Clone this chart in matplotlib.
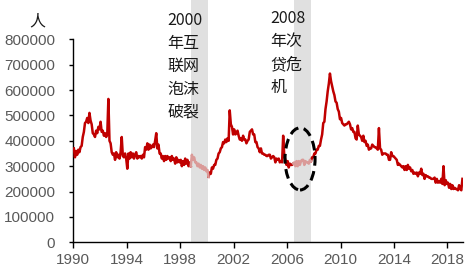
import numpy as np
import matplotlib
matplotlib.use("Agg")
import matplotlib.pyplot as plt
from matplotlib.patches import Ellipse

# Weekly initial jobless claims (thousands of persons)
c1990 = [370, 335, 360, 345, 365, 355, 375, 380, 415, 435, 470, 475]
c1991 = [490, 470, 510, 480, 465, 430, 425, 415, 440, 430, 455, 445]
c1992 = [475, 435, 440, 420, 430, 415, 425, 565, 400, 390, 355, 345]
c1993 = [350, 325, 355, 335, 345, 330, 355, 415, 340, 335, 350, 330]
c1994 = [290, 350, 330, 355, 335, 350, 330, 345, 355, 330, 340, 335]
c1995 = [340, 330, 345, 335, 375, 365, 390, 365, 385, 370, 375, 385]
c1996 = [375, 400, 430, 370, 385, 350, 350, 330, 340, 320, 340, 325]
c1997 = [340, 330, 335, 320, 340, 325, 330, 310, 335, 315, 325, 315]
c1998 = [325, 300, 320, 305, 330, 310, 325, 300, 315, 300, 345, 325]
c1999 = [335, 315, 315, 300, 310, 295, 305, 290, 300, 285, 295, 280]
c2000 = [285, 258, 275, 270, 295, 290, 305, 305, 325, 330, 350, 355]
c2001 = [370, 375, 395, 390, 405, 395, 410, 400, 520, 465, 455, 425]
c2002 = [445, 425, 430, 440, 420, 405, 410, 400, 420, 405, 405, 390]
c2003 = [400, 405, 435, 440, 445, 425, 425, 395, 395, 375, 370, 355]
c2004 = [370, 350, 350, 345, 345, 340, 340, 345, 345, 330, 335, 340]
c2005 = [335, 315, 330, 325, 330, 315, 320, 315, 420, 340, 325, 305]
c2006 = [320, 295, 310, 305, 305, 310, 315, 300, 320, 300, 320, 305]
c2007 = [320, 325, 325, 305, 320, 315, 315, 310, 325, 320, 335, 335]
c2008 = [350, 350, 365, 365, 380, 380, 405, 425, 470, 475, 525, 555]
c2009 = [595, 625, 665, 635, 615, 595, 580, 555, 550, 525, 515, 485]
c2010 = [490, 470, 465, 460, 465, 465, 470, 475, 465, 445, 450, 435]
c2011 = [435, 410, 405, 460, 425, 420, 415, 400, 420, 395, 400, 380]
c2012 = [385, 365, 370, 370, 385, 380, 375, 375, 370, 365, 450, 370]
c2013 = [365, 345, 350, 350, 350, 345, 345, 325, 325, 355, 340, 340]
c2014 = [335, 330, 325, 305, 310, 305, 300, 295, 300, 285, 300, 285]
c2015 = [305, 290, 295, 280, 285, 270, 275, 270, 275, 260, 275, 270]
c2016 = [290, 265, 270, 250, 265, 260, 260, 255, 255, 250, 250, 250]
c2017 = [255, 235, 250, 235, 240, 235, 250, 230, 300, 225, 245, 230]
c2018 = [235, 215, 230, 210, 225, 210, 215, 210, 210, 205, 225, 210]
c2019 = [205, 250]

crisis_periods = [(1998.8, 2000.06), (2006.52, 2007.78)]
crisis_labels = ["2000\n年互\n联网\n泡沫\n破裂", "2008\n年次\n贷危\n机"]
y_ticks = [0, 100000, 200000, 300000, 400000, 500000, 600000, 700000, 800000]
x_ticks = [1990, 1994, 1998, 2002, 2006, 2010, 2014, 2018]

series = (c1990 + c1991 + c1992 + c1993 + c1994 + c1995 + c1996 + c1997 + c1998 +
          c1999 + c2000 + c2001 + c2002 + c2003 + c2004 + c2005 + c2006 + c2007 +
          c2008 + c2009 + c2010 + c2011 + c2012 + c2013 + c2014 + c2015 + c2016 +
          c2017 + c2018 + c2019)
vals = np.array(series, dtype=float) * 1000
t = 1990 + (np.arange(len(vals)) + 0.5) / 12.0

in_crisis = np.zeros(len(vals), dtype=bool)
for a, b in crisis_periods:
    in_crisis |= (t >= a) & (t <= b)
pink_mask = in_crisis.copy()
pink_mask[:-1] |= in_crisis[1:]
pink_mask[1:] |= in_crisis[:-1]
red_vals = np.where(in_crisis, np.nan, vals)
pink_vals = np.where(pink_mask, vals, np.nan)

W, H = 465, 273
fig = plt.figure(figsize=(W / 100, H / 100), dpi=100)
ax = fig.add_axes([73.3 / W, 1 - 242.3 / H, (463.3 - 73.3) / W, (242.3 - 39.3) / H])

for a, b in crisis_periods:
    ax.axvspan(a, b, ymin=0, ymax=1 + 39.3 / 203, color="#E0E0E0", lw=0,
               clip_on=False, zorder=0)

ax.plot(t, red_vals, color="#C00000", lw=1.8, zorder=3)
ax.plot(t, pink_vals, color="#DA9A98", lw=1.8, zorder=3)

ax.add_patch(Ellipse((2006.97, 328700), width=2.25, height=245000, fill=False,
                     ec="black", lw=2.2, ls=(0, (3.2, 1.8)), zorder=4))

ax.set_xlim(1990, 2019.19)
ax.set_ylim(0, 800000)
ax.set_xticks(x_ticks)
ax.set_yticks(y_ticks)
ax.set_xticklabels([str(v) for v in x_ticks])
ax.set_yticklabels([str(v) for v in y_ticks])
for s in ["top", "right"]:
    ax.spines[s].set_visible(False)
for s in ["left", "bottom"]:
    ax.spines[s].set_color("black")
    ax.spines[s].set_linewidth(1.0)
ax.tick_params(axis="y", direction="out", length=3, width=1, pad=10,
               labelsize=11, labelcolor="#595959")
ax.tick_params(axis="x", direction="out", length=4, width=1, pad=4,
               labelsize=11, labelcolor="#595959")
for lab in ax.get_xticklabels() + ax.get_yticklabels():
    lab.set_fontfamily(["Liberation Sans", "DejaVu Sans"])

cjk = ["Noto Sans CJK SC", "DejaVu Sans"]
fig.text(167 / W, 1 - 12 / H, crisis_labels[0], ha="left", va="top", fontsize=11.5,
         family=cjk, color="#1a1a1a", linespacing=1.46, zorder=5)
fig.text(270.5 / W, 1 - 10 / H, crisis_labels[1], ha="left", va="top", fontsize=11.5,
         family=cjk, color="#1a1a1a", linespacing=1.46, zorder=5)
fig.text(37.7 / W, 1 - 20.7 / H, "人", ha="center", va="center", fontsize=11.5,
         family=cjk, color="#1a1a1a")

fig.savefig("out.png", dpi=100)
